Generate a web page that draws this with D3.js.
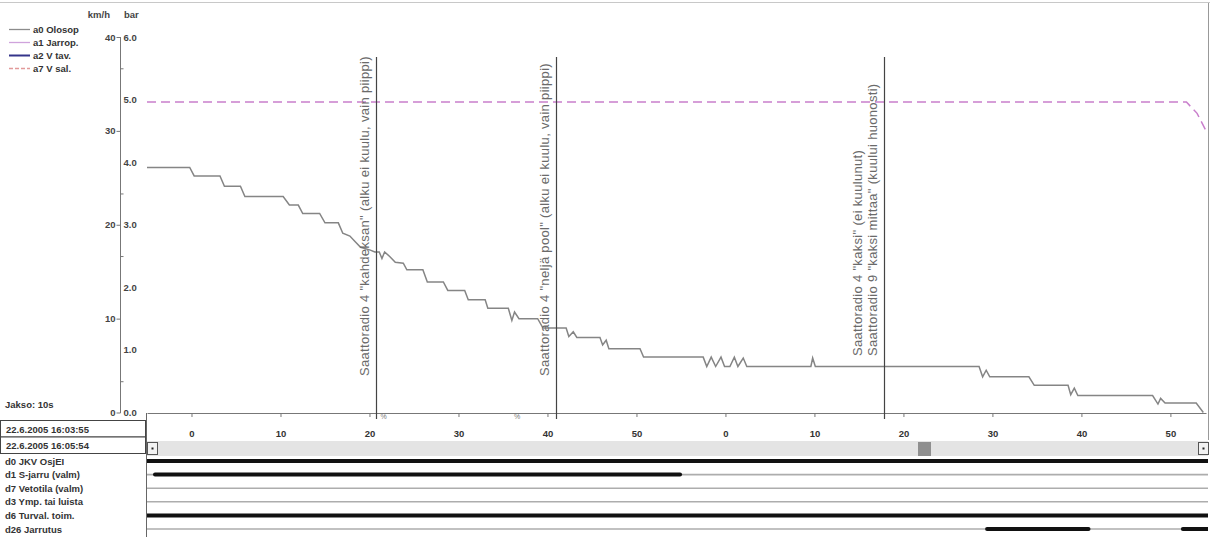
<!DOCTYPE html>
<html>
<head>
<meta charset="utf-8">
<script src="https://cdn.jsdelivr.net/npm/d3@7"></script>
<style>
  body { margin: 0; background: #fff; }
  svg { display: block; font-family: 'Liberation Sans', Arial, sans-serif; }
</style>
</head>
<body>
<svg id="chart"></svg>
<script>
const width = 1210
const height = 537

// analog channels (legend)
const legendItems = ['a0 Olosop', 'a1 Jarrop.', 'a2 V tav.', 'a7 V sal.']
const legendColors = ['#8c8c8c', '#cfa3dc', '#34348a', '#e29a9a']

// a0 trace: [seconds after 16:03:55, km/h]
const speedData = [
  [0, 26.1], [4.8, 26.1], [5.3, 25.2], [8.2, 25.2], [8.7, 24.1], [10.5, 24.1],
  [11.0, 23.0], [15.3, 23.0], [16.0, 22.1], [17.0, 22.1], [17.5, 21.2], [19.4, 21.2],
  [20.0, 20.2], [21.5, 20.2], [22.0, 19.1], [22.8, 18.8], [23.4, 18.2], [24.0, 17.6],
  [25.1, 17.3], [25.6, 17.1], [26.1, 17.1], [26.4, 16.4], [26.7, 17.1], [27.3, 16.6],
  [27.9, 16.0], [28.8, 15.9], [29.2, 15.2], [31.0, 15.2], [31.5, 13.9], [33.3, 13.9],
  [33.8, 13.0], [35.7, 13.0], [36.1, 12.0], [38.0, 12.0], [38.3, 11.1], [40.6, 11.1],
  [41.0, 9.8], [41.3, 10.7], [41.8, 10.0], [43.9, 10.0], [44.5, 9.0], [47.1, 9.0],
  [47.4, 8.1], [47.9, 8.6], [48.3, 8.0], [50.9, 8.0], [51.2, 7.2], [51.6, 7.7],
  [51.9, 6.8], [55.4, 6.8], [55.8, 5.9], [62.5, 5.9], [62.9, 4.9], [63.4, 5.9],
  [63.9, 4.9], [64.5, 5.9], [64.9, 4.9], [65.5, 4.9], [66.0, 5.9], [66.4, 4.9],
  [67.0, 5.8], [67.4, 4.9], [74.6, 4.9], [74.8, 5.8], [75.1, 4.9], [93.5, 4.9],
  [93.9, 3.8], [94.3, 4.5], [94.7, 3.8], [99.1, 3.8], [99.7, 2.9], [103.5, 2.9],
  [103.8, 1.9], [104.2, 2.6], [104.6, 1.8], [113.0, 1.8], [113.6, 0.9], [113.9, 1.5],
  [114.4, 1.0], [117.9, 1.0], [118.7, 0]
]

// a1 trace: [seconds, bar]
const pressureData = [[0, 4.96], [116.8, 4.96], [118.0, 4.78], [119, 4.5]]

// voice radio events
const eventTimes = [25.7, 46.0, 82.8]
const eventTexts = [
  ['Saattoradio 4  "kahdeksan" (alku ei kuulu, vain piippi)'],
  ['Saattoradio 4  "neljä pool" (alku ei kuulu, vain piippi)'],
  ['Saattoradio 4  "kaksi" (ei kuulunut)', 'Saattoradio 9  "kaksi mittaa" (kuului huonosti)']
]
const percentMarks = [26.6, 41.6]

// axes
const kmhTicks = [0, 10, 20, 30, 40]
const barTicks = [0, 1, 2, 3, 4, 5, 6]
const barMinorTicks = [0.5, 2.5, 3.5, 5.5]
const timeTicks = [5, 15, 25, 35, 45, 55, 65, 75, 85, 95, 105, 115]
const timeTickLabels = ['0', '10', '20', '30', '40', '50', '0', '10', '20', '30', '40', '50']

// digital channels
const digitalChannels = ['d0 JKV OsjEI', 'd1 S-jarru (valm)', 'd7 Vetotila (valm)', 'd3 Ymp. tai luista', 'd6 Turval. toim.', 'd26 Jarrutus']
const digitalOn = [
  [[0, 119]],
  [[0.9, 59.9]],
  [],
  [],
  [[0, 119]],
  [[94.4, 105.8], [116.4, 119]]
]

const startTime = '22.6.2005 16:03:55'
const endTime = '22.6.2005 16:05:54'
const periodLabel = 'Jakso: 10s'

const svg = d3.select('#chart').attr('width', width).attr('height', height)

svg.append('rect').attr('width', width).attr('height', height).attr('fill', '#fff')

// --------------------------------------------------------------
// scales
const x = d3.scaleLinear().domain([0, 119]).range([147, 1206])
const yKmh = d3.scaleLinear().domain([0, 40]).range([412.5, 37])
const yBar = d3.scaleLinear().domain([0, 6]).range([412.5, 37])
const yDig = d3.scalePoint().domain(digitalChannels).range([461, 529])

// frame
svg.append('line').attr('x1', 0).attr('x2', width).attr('y1', 2.5).attr('y2', 2.5)
  .attr('stroke', '#c8c8c8')
svg.append('line').attr('x1', 1208.5).attr('x2', 1208.5).attr('y1', 3).attr('y2', 440)
  .attr('stroke', '#999')

// --------------------------------------------------------------
// legend
const legend = svg.append('g').attr('class', 'legend')
legendItems.forEach((name, i) => {
  const ly = 29.5 + i * 13
  legend.append('line')
    .attr('x1', 9).attr('x2', 30).attr('y1', ly).attr('y2', ly)
    .attr('stroke', legendColors[i])
    .attr('stroke-width', i === 2 ? 2 : 1.3)
    .attr('stroke-dasharray', i === 3 ? '4,2' : null)
  legend.append('text')
    .attr('x', 33).attr('y', ly + 3.5)
    .attr('font-size', 9.5).attr('font-weight', 'bold').attr('fill', '#333')
    .text(name)
})

// --------------------------------------------------------------
// y axes
svg.append('line').attr('x1', 120.5).attr('x2', 120.5).attr('y1', 37).attr('y2', 413)
  .attr('stroke', '#777')

const kmhAxis = svg.append('g')
  .attr('transform', 'translate(120.5,0)')
  .call(d3.axisLeft(yKmh).tickValues(kmhTicks).tickSize(4).tickPadding(1).tickSizeOuter(0))
const barAxis = svg.append('g')
  .attr('transform', 'translate(120.5,0)')
  .call(d3.axisRight(yBar).tickValues(barTicks).tickSize(0).tickPadding(3).tickFormat(d3.format('.1f')))
const barMinor = svg.append('g')
  .attr('transform', 'translate(120.5,0)')
  .call(d3.axisRight(yBar).tickValues(barMinorTicks).tickSize(3).tickFormat(''))

;[kmhAxis, barAxis, barMinor].forEach((g) => {
  g.select('.domain').remove()
  g.selectAll('line').attr('stroke', '#777')
  g.selectAll('text').attr('font-size', 9.5).attr('font-weight', 'bold').attr('fill', '#444')
    .attr('font-family', 'Liberation Sans, Arial, sans-serif')
})

svg.append('text').attr('x', 110).attr('y', 18).attr('text-anchor', 'end')
  .attr('font-size', 9.5).attr('font-weight', 'bold').attr('fill', '#444').text('km/h')
svg.append('text').attr('x', 124).attr('y', 18)
  .attr('font-size', 9.5).attr('font-weight', 'bold').attr('fill', '#444').text('bar')

// --------------------------------------------------------------
// x axis
const xAxis = svg.append('g')
  .attr('transform', 'translate(0,413)')
  .call(d3.axisBottom(x).tickValues(timeTicks).tickSize(4).tickPadding(13).tickSizeOuter(0)
    .tickFormat((d, i) => timeTickLabels[i]))
xAxis.select('.domain').attr('stroke', '#777')
xAxis.selectAll('line').attr('stroke', '#777')
xAxis.selectAll('text').attr('font-size', 9.5).attr('font-weight', 'bold').attr('fill', '#333')
  .attr('font-family', 'Liberation Sans, Arial, sans-serif')

svg.append('text').attr('x', 5).attr('y', 408)
  .attr('font-size', 9.5).attr('font-weight', 'bold').attr('fill', '#333').text(periodLabel)

// --------------------------------------------------------------
// traces
svg.append('path')
  .datum(pressureData)
  .attr('d', d3.line().x((d) => x(d[0])).y((d) => yBar(d[1])))
  .attr('fill', 'none')
  .attr('stroke', '#c97fcc')
  .attr('stroke-width', 1.5)
  .attr('stroke-dasharray', '9,5')

svg.append('path')
  .datum(speedData)
  .attr('d', d3.line().x((d) => x(d[0])).y((d) => yKmh(d[1])))
  .attr('fill', 'none')
  .attr('stroke', '#858585')
  .attr('stroke-width', 1.5)

// events
eventTimes.forEach((t, i) => {
  const ex = Math.round(x(t)) + 0.5
  svg.append('line')
    .attr('x1', ex).attr('x2', ex).attr('y1', 57).attr('y2', 419)
    .attr('stroke', '#444').attr('stroke-width', 1.2)
  const lines = eventTexts[i]
  const bottom = i === 2 ? 356 : 376
  lines.forEach((txt, j) => {
    const bx = ex - 8 - (lines.length - 1 - j) * 15
    svg.append('text')
      .attr('transform', `translate(${bx},${bottom}) rotate(-90)`)
      .attr('font-size', 13)
      .attr('letter-spacing', 0.32)
      .attr('fill', '#6a6a6a')
      .text(txt)
  })
})

percentMarks.forEach((t) => {
  svg.append('text').attr('x', x(t)).attr('y', 419)
    .attr('font-size', 7).attr('fill', '#777').attr('text-anchor', 'middle').text('%')
})

// --------------------------------------------------------------
// time boxes and scrollbar
;[startTime, endTime].forEach((s, i) => {
  svg.append('rect')
    .attr('x', 0.5).attr('y', 420.5 + i * 16.5).attr('width', 145).attr('height', 16.5)
    .attr('fill', '#fff').attr('stroke', '#444')
  svg.append('text')
    .attr('x', 6).attr('y', 432.5 + i * 16.5)
    .attr('font-size', 9.5).attr('font-weight', 'bold').attr('fill', '#333').text(s)
})

svg.append('rect').attr('x', 147).attr('y', 441).attr('width', 1061).attr('height', 15)
  .attr('fill', '#e4e4e4')
;[147.5, 1198.5].forEach((bx) => {
  svg.append('rect').attr('x', bx).attr('y', 442.5).attr('width', 10).attr('height', 12)
    .attr('fill', '#f2f2f2').attr('stroke', '#555')
  svg.append('rect').attr('x', bx + 4).attr('y', 447.5).attr('width', 2).attr('height', 2)
    .attr('fill', '#222')
})
svg.append('rect').attr('x', 918).attr('y', 442).attr('width', 13).attr('height', 14)
  .attr('fill', '#8f8f8f')

// --------------------------------------------------------------
// digital channels
svg.append('line').attr('x1', 146.5).attr('x2', 146.5).attr('y1', 413).attr('y2', height)
  .attr('stroke', '#666')

svg.append('clipPath').attr('id', 'digClip')
  .append('rect').attr('x', 147).attr('y', 455).attr('width', 1061).attr('height', 82)

const dig = svg.append('g').attr('clip-path', 'url(#digClip)')

digitalChannels.forEach((name, i) => {
  const cy = yDig(name)
  svg.append('text')
    .attr('x', 5).attr('y', cy + 3.5)
    .attr('font-size', 9.5).attr('font-weight', 'bold').attr('fill', '#333').text(name)
  dig.append('line')
    .attr('x1', 147).attr('x2', 1210).attr('y1', cy).attr('y2', cy)
    .attr('stroke', '#adadad').attr('stroke-width', 1.6)
  dig.selectAll(null)
    .data(digitalOn[i])
    .join('line')
    .attr('x1', (d) => x(d[0]))
    .attr('x2', (d) => (d[1] >= 119 ? 1212 : x(d[1])))
    .attr('y1', cy).attr('y2', cy)
    .attr('stroke', '#111')
    .attr('stroke-width', 4)
    .attr('stroke-linecap', 'round')
})
</script>
</body>
</html>
